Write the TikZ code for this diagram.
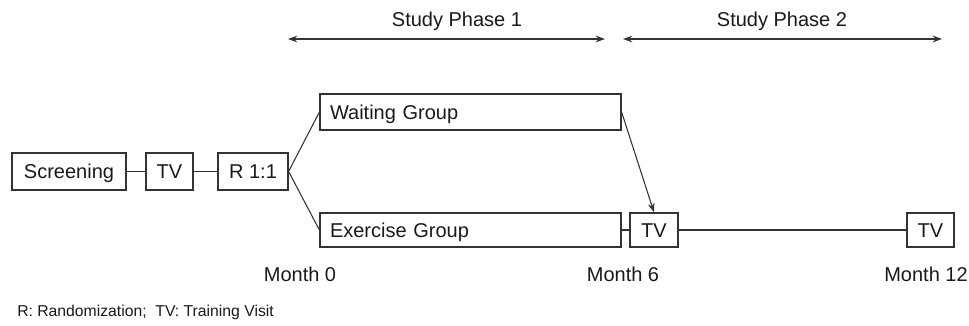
\documentclass[tikz,border=0pt]{standalone}
\usepackage{fontspec}
\setmainfont{Liberation Sans}
\usetikzlibrary{arrows.meta}

\begin{document}
\begin{tikzpicture}[x=0.75pt, y=-0.75pt, >={Stealth[length=7pt,width=5pt]},
    box/.style={draw=black!80, line width=0.9pt, inner sep=0pt, text height=10.7pt, text depth=0pt, font=\fontsize{15}{18}\selectfont, text=black!90},
    grp/.style={box, minimum width=225.75pt, text width=210.75pt, align=left, inner xsep=7.5pt},
    lbl/.style={font=\fontsize{15}{18}\selectfont, text=black!90, inner sep=0pt},
    link/.style={draw=black!80, line width=0.8pt}]
        \useasboundingbox (0,0) rectangle (969,325);

        % left part
        \node[box, minimum width=85.5pt, minimum height=27.75pt] (screen) at (69,171.5) {Screening};
        \node[box, minimum width=35.25pt, minimum height=27.75pt] (tva) at (169.5,171.5) {TV};
        \node[box, minimum width=52.5pt, minimum height=27.75pt] (rand) at (253,171.5) {R 1:1};

        % groups
        \node[grp, minimum height=27pt] (wait) at (470.5,112) {Waiting Group};
        \node[grp, minimum height=25.5pt] (exer) at (470.5,230) {Exercise Group};

        % visits
        \node[box, minimum width=36pt, minimum height=25.5pt] (tvb) at (654,230) {TV};
        \node[box, minimum width=35.25pt, minimum height=25.5pt] (tvc) at (930.5,230) {TV};

        \draw[link] (screen) -- (tva);
        \draw[link] (tva) -- (rand);
        \draw[link] (rand.east) -- (wait.west);
        \draw[link] (rand.east) -- (exer.west);
        \draw[link] (exer) -- (tvb);
        \draw[link] (tvb) -- (tvc);
        \draw[link, ->] (wait.east) -- (tvb.north);

        % study phases
        \coordinate (ph1a) at (288,39);
        \coordinate (ph1b) at (605,39);
        \coordinate (ph2a) at (623,39);
        \coordinate (ph2b) at (942,39);
        \draw[link, line width=1.1pt, <->] (ph1a) -- (ph1b);
        \draw[link, line width=1.1pt, <->] (ph2a) -- (ph2b);
        \node[lbl] (ph1) at (457,21) {Study Phase 1};
        \node[lbl] (ph2) at (782,21) {Study Phase 2};

        % months
        \node[lbl] (m0) at (300,274) {Month 0};
        \node[lbl] (m6) at (623,274) {Month 6};
        \node[lbl] (m12) at (926,274) {Month 12};

        \node[lbl, anchor=west, font=\fontsize{11.8}{14}\selectfont] (note) at (17,312) {R: Randomization;\ \ TV: Training Visit};
    \end{tikzpicture}
\end{document}
